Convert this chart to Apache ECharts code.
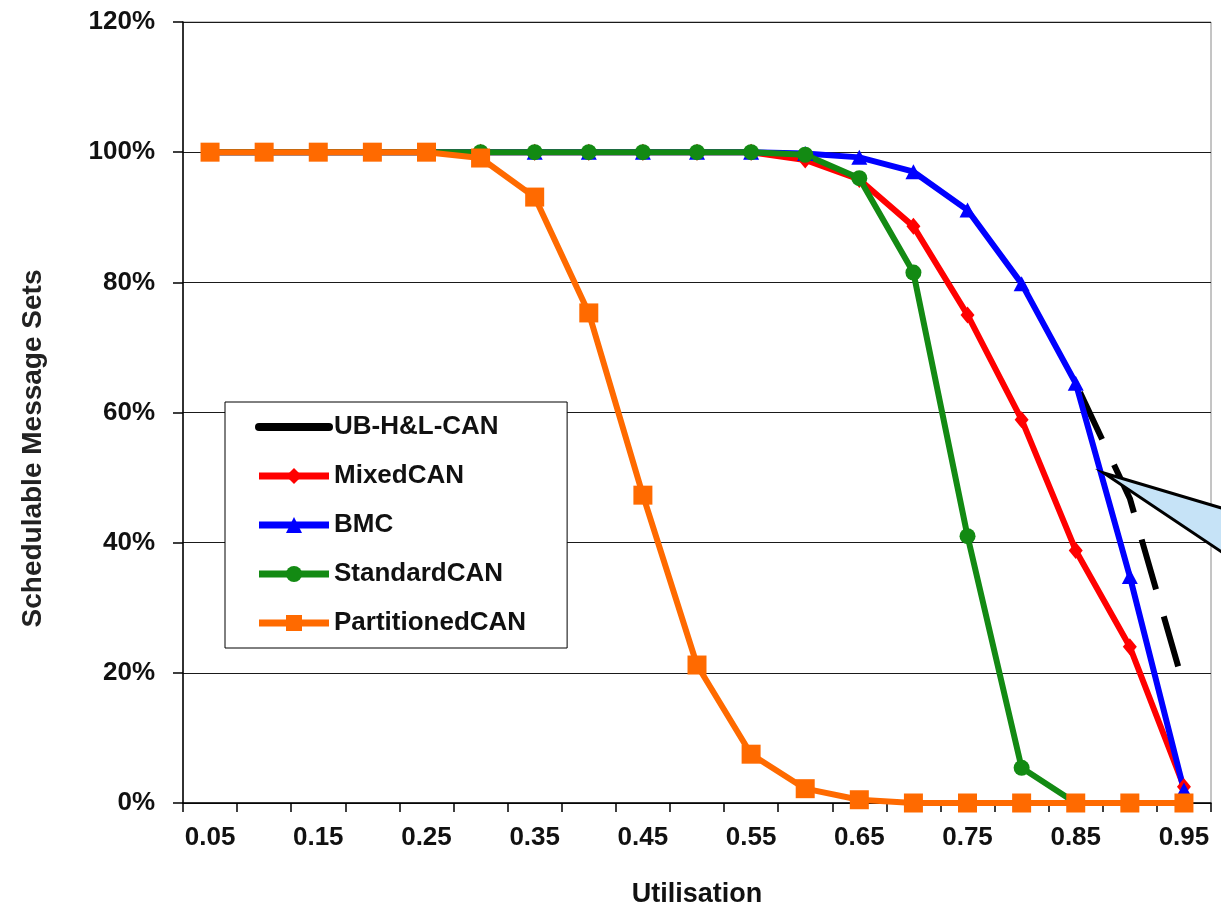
<!DOCTYPE html>
<html>
<head>
<meta charset="utf-8">
<script src="https://cdn.jsdelivr.net/npm/echarts@6/dist/echarts.min.js"></script>
<style>
html,body{margin:0;padding:0;background:#fff;}
#chart{width:1221px;height:908px;}
</style>
</head>
<body>
<div id="chart"></div>
<script>
// ---- data ----
const categories = ['0.05','0.10','0.15','0.20','0.25','0.30','0.35','0.40','0.45','0.50','0.55','0.60','0.65','0.70','0.75','0.80','0.85','0.90','0.95'];
const tickLabels = ['0.05','0.15','0.25','0.35','0.45','0.55','0.65','0.75','0.85','0.95'];
const seriesNames = ['UB-H&L-CAN','MixedCAN','BMC','StandardCAN','PartitionedCAN'];
const ubHL        = [null,null,null,null,null,null,null,null,null,null,null,null,null,null,null,null,64.5,46.8,17.9];
const mixedCAN    = [100,100,100,100,100,100,100,100,100,100,100,98.8,95.8,88.6,75.0,58.9,38.8,24.0,2.5];
const bmc         = [100,100,100,100,100,100,100,100,100,100,100,99.8,99.2,97.0,91.1,79.8,64.5,34.8,2.0];
const standardCAN = [100,100,100,100,100,100,100,100,100,100,100,99.6,96.0,81.5,41.0,5.4,0,0,0];
const partitionedCAN = [100,100,100,100,100,99.1,93.1,75.3,47.3,21.2,7.5,2.2,0.5,0,0,0,0,0,0];
const yTicks = [0,20,40,60,80,100,120];

const FONT = '"Liberation Sans", Arial, sans-serif';
const chart = echarts.init(document.getElementById('chart'), null, {renderer:'canvas'});

function lineSeries(name, data, color, symbol, size, extra) {
  return Object.assign({
    name: name, type: 'line', data: data,
    symbol: symbol, symbolSize: size, showAllSymbol: true,
    lineStyle: {color: color, width: 6},
    itemStyle: {color: color},
    emphasis: {disabled: true},
    animation: false
  }, extra || {});
}

const option = {
  backgroundColor: '#fff',
  animation: false,
  grid: {left: 183, right: 10, top: 22, bottom: 105, outerBoundsMode: 'none', containLabel: false,
         show: true, borderColor: '#8a8a8a', borderWidth: 1},
  legend: {
    orient: 'vertical', left: 225, top: 402,
    padding: [12, 41, 12, 30], itemGap: 23,
    itemWidth: 70, itemHeight: 20,
    backgroundColor: '#fff', borderColor: '#000', borderWidth: 1,
    lineStyle: {width: 7},
    textStyle: {fontFamily: FONT, fontWeight: 'bold', fontSize: 26, color: '#111', lineHeight: 26},
    data: [
      {name: seriesNames[0], lineStyle: {type: 'solid', width: 8, cap: 'round'}, itemStyle: {color: 'rgba(0,0,0,0)', borderWidth: 0}},
      seriesNames[1], seriesNames[2], seriesNames[3], seriesNames[4]
    ]
  },
  xAxis: {
    type: 'category', data: categories, boundaryGap: true,
    name: 'Utilisation', nameLocation: 'middle', nameGap: 78,
    nameTextStyle: {fontFamily: FONT, fontWeight: 'bold', fontSize: 27, color: '#111'},
    axisLine: {lineStyle: {color: '#000', width: 1.5}},
    axisTick: {show: true, interval: 0, length: 9, lineStyle: {color: '#000', width: 1.5}},
    axisLabel: {
      interval: 1, margin: 22,
      fontFamily: FONT, fontWeight: 'bold', fontSize: 26, color: '#111',
      formatter: function (v) { return tickLabels.indexOf(v) >= 0 ? v : ''; }
    },
    splitLine: {show: false}
  },
  yAxis: {
    type: 'value', min: yTicks[0], max: yTicks[yTicks.length - 1], interval: 20,
    name: 'Schedulable Message Sets', nameLocation: 'middle', nameGap: 136, nameRotate: 90,
    nameTextStyle: {fontFamily: FONT, fontWeight: 'bold', fontSize: 28, color: '#222', padding: [0, 72, 0, 0]},
    axisLine: {show: true, lineStyle: {color: '#000', width: 1.5}},
    axisTick: {show: true, length: 10, lineStyle: {color: '#000', width: 1.5}},
    axisLabel: {margin: 28, fontFamily: FONT, fontWeight: 'bold', fontSize: 26, color: '#111', formatter: '{value}%'},
    splitLine: {show: true, lineStyle: {color: '#1a1a1a', width: 1.2}}
  },
  series: [
    lineSeries(seriesNames[0], ubHL, '#000', 'none', 0, {lineStyle: {color: '#000', width: 6, type: [52, 28], dashOffset: 70}}),
    lineSeries(seriesNames[1], mixedCAN, '#ff0000', 'diamond', [14, 17]),
    lineSeries(seriesNames[2], bmc, '#0000ff', 'triangle', [16, 15]),
    lineSeries(seriesNames[3], standardCAN, '#138a13', 'circle', 16),
    lineSeries(seriesNames[4], partitionedCAN, '#ff6a00', 'rect', 19)
  ]
};
chart.setOption(option);

// callout (annotation cut off at the right edge), anchored between the 0.85 and 0.90 categories
const p16 = chart.convertToPixel({xAxisIndex: 0, yAxisIndex: 0}, [16, 50.7]);
const p17 = chart.convertToPixel({xAxisIndex: 0, yAxisIndex: 0}, [17, 50.7]);
const tip = [(p16[0] + p17[0]) / 2 + 1, p16[1]];
const ext = 180;
chart.setOption({
  graphic: [{
    type: 'polygon', z: 10,
    shape: {points: [tip, [tip[0] + ext, tip[1] + 0.297 * ext], [tip[0] + ext, tip[1] + 0.669 * ext]]},
    style: {fill: '#c6e3f7', stroke: '#000', lineWidth: 3}
  }]
});
</script>
</body>
</html>
